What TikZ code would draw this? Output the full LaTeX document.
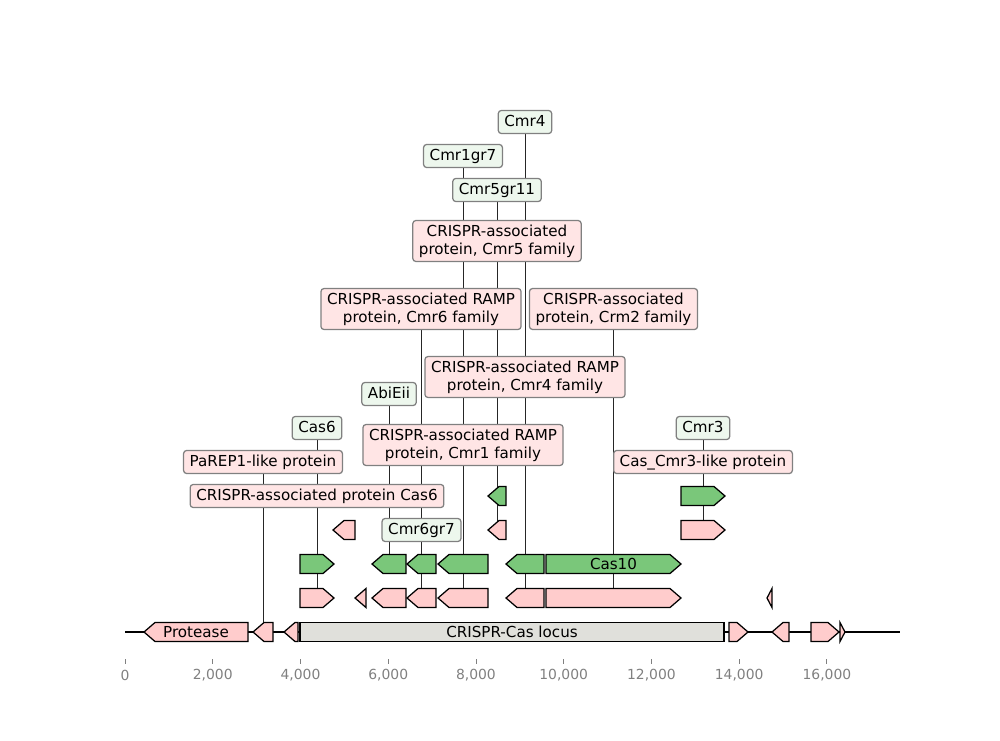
\documentclass[tikz,border=0pt]{standalone}
\usepackage{fontspec}
\setmainfont{DejaVu Sans}
\pgfdeclarelayer{background}
\pgfsetlayers{background,main}

\definecolor{featpink}{RGB}{255,204,204}
\definecolor{featgreen}{RGB}{122,199,122}
\definecolor{locusgrey}{RGB}{224,224,219}
\definecolor{labpink}{RGB}{255,229,229}
\definecolor{labgreen}{RGB}{237,247,237}
\definecolor{labedge}{RGB}{128,128,128}
\definecolor{axisgrey}{RGB}{128,128,128}

\newcommand\labfont{\fontsize{10.9}{13}\selectfont}

\tikzset{
  feat/.style={draw=black, line width=0.9pt, line join=miter},
  pinkfeat/.style={feat, fill=featpink},
  greenfeat/.style={feat, fill=featgreen},
  lab/.style={draw=labedge, line width=0.9pt, rounded corners=2.2pt,
    inner xsep=4.4pt, inner ysep=0pt, font=\labfont},
  onelab/.style={lab, text height=8.2pt, text depth=2.4pt, minimum height=16.6pt},
  twolab/.style={lab, align=center, minimum height=29.5pt},
  pinklab/.style={fill=labpink},
  greenlab/.style={fill=labgreen},
  link/.style={draw=black!85, line width=0.5pt},
  inlab/.style={inner sep=0pt, font=\labfont},
  ticklab/.style={inner sep=0pt, text=axisgrey, font=\fontsize{10}{12}\selectfont},
  tickmark/.style={draw=axisgrey, line width=0.6pt},
}

% forward gene: name, start, end, row, style
\newcommand\fwdgene[5]{%
  \pgfmathsetmacro\gneck{max(#2,#3-11)}%
  \draw[#5] (#2,#4-9.5) -- (\gneck,#4-9.5) -- (#3,#4) -- (\gneck,#4+9.5) -- (#2,#4+9.5) -- cycle;
  \coordinate (#1) at ({(#2+#3)/2},#4-9.5);}
% reverse gene: name, start, end, row, style
\newcommand\revgene[5]{%
  \pgfmathsetmacro\gneck{min(#3,#2+11)}%
  \draw[#5] (#3,#4-9.5) -- (\gneck,#4-9.5) -- (#2,#4) -- (\gneck,#4+9.5) -- (#3,#4+9.5) -- cycle;
  \coordinate (#1) at ({(#2+#3)/2},#4-9.5);}

\begin{document}
\begin{tikzpicture}[x=0.72pt, y=-0.72pt]
\useasboundingbox (0,0) rectangle (1000,740);

% ---- sequence backbone ----
\coordinate (seqL) at (125,632);
\coordinate (seqR) at (900,632);
\begin{pgfonlayer}{background}
  \draw[line width=1.3pt] (seqL) -- (seqR);
\end{pgfonlayer}

% ---- backbone row ----
\revgene{gProt}{144}{248}{632}{pinkfeat}
\node[inlab] (tProt) at (196,632) {Protease};
\revgene{gA2}{253}{273}{632}{pinkfeat}
\revgene{gA3}{284}{298}{632}{pinkfeat}
\draw[feat, fill=locusgrey] (300,622.5) rectangle (724,641.5);
\node[inlab] (tLocus) at (512,632) {CRISPR-Cas locus};
\fwdgene{gA5}{729}{748}{632}{pinkfeat}
\revgene{gA6}{772}{789}{632}{pinkfeat}
\fwdgene{gA7}{811}{839}{632}{pinkfeat}
\fwdgene{gA8}{840}{845}{632}{pinkfeat}

% ---- pink row 598 ----
\fwdgene{pB1}{300}{334}{598}{pinkfeat}
\revgene{pB2}{355}{366}{598}{pinkfeat}
\revgene{pB3}{372}{406}{598}{pinkfeat}
\revgene{pB4}{407}{436}{598}{pinkfeat}
\revgene{pB5}{438}{488}{598}{pinkfeat}
\revgene{pB6}{506}{544}{598}{pinkfeat}
\fwdgene{pB7}{546}{681}{598}{pinkfeat}
\revgene{pB8}{767}{772}{598}{pinkfeat}

% ---- green row 564 ----
\fwdgene{gC1}{300}{334}{564}{greenfeat}
\revgene{gC3}{372}{406}{564}{greenfeat}
\revgene{gC4}{407}{436}{564}{greenfeat}
\revgene{gC5}{438}{488}{564}{greenfeat}
\revgene{gC6}{506}{544}{564}{greenfeat}
\fwdgene{gC7}{546}{681}{564}{greenfeat}
\node[inlab] (tCas10) at (613.5,564) {Cas10};

% ---- pink row 530 ----
\revgene{pD1}{333}{355}{530}{pinkfeat}
\revgene{pD2}{488}{506}{530}{pinkfeat}
\fwdgene{pD3}{681}{725}{530}{pinkfeat}

% ---- green row 496 ----
\revgene{gE2}{488}{506}{496}{greenfeat}
\fwdgene{gE3}{681}{725}{496}{greenfeat}

% ---- labels ----
\node[onelab, greenlab] (lCmr4) at (525,122) {Cmr4};
\node[onelab, greenlab] (lCmr1gr7) at (463,156) {Cmr1gr7};
\node[onelab, greenlab] (lCmr5gr11) at (497,190) {Cmr5gr11};
\node[twolab, pinklab] (lCmr5fam) at (497,241) {CRISPR-associated\\protein, Cmr5 family};
\node[twolab, pinklab] (lCmr6fam) at (421,309) {CRISPR-associated RAMP\\protein, Cmr6 family};
\node[twolab, pinklab] (lCrm2fam) at (613.5,309) {CRISPR-associated\\protein, Crm2 family};
\node[twolab, pinklab] (lCmr4fam) at (525,377) {CRISPR-associated RAMP\\protein, Cmr4 family};
\node[onelab, greenlab] (lAbiEii) at (389,394) {AbiEii};
\node[onelab, greenlab] (lCas6) at (317,428) {Cas6};
\node[twolab, pinklab] (lCmr1fam) at (463,445) {CRISPR-associated RAMP\\protein, Cmr1 family};
\node[onelab, greenlab] (lCmr3) at (703,428) {Cmr3};
\node[onelab, pinklab] (lPaREP) at (263,462) {PaREP1-like protein};
\node[onelab, pinklab] (lCmr3like) at (703,462) {Cas\_Cmr3-like protein};
\node[onelab, pinklab] (lCas6prot) at (317,496) {CRISPR-associated protein Cas6};
\node[onelab, greenlab] (lCmr6gr7) at (421.5,530) {Cmr6gr7};

% ---- label connectors ----
\begin{pgfonlayer}{background}
  \draw[link] (gA2) -- (gA2 |- lPaREP.center);
  \draw[link] (gC1) -- (gC1 |- lCas6.center);
  \draw[link] (pB1) -- (pB1 |- lCas6prot.center);
  \draw[link] (gC3) -- (gC3 |- lAbiEii.center);
  \draw[link] (gC4) -- (gC4 |- lCmr6gr7.center);
  \draw[link] (pB4) -- (pB4 |- lCmr6fam.center);
  \draw[link] (gC5) -- (gC5 |- lCmr1gr7.center);
  \draw[link] (pB5) -- (pB5 |- lCmr1fam.center);
  \draw[link] (gE2) -- (gE2 |- lCmr5gr11.center);
  \draw[link] (pD2) -- (pD2 |- lCmr5fam.center);
  \draw[link] (gC6) -- (gC6 |- lCmr4.center);
  \draw[link] (pB6) -- (pB6 |- lCmr4fam.center);
  \draw[link] (pB7) -- (pB7 |- lCrm2fam.center);
  \draw[link] (gE3) -- (gE3 |- lCmr3.center);
  \draw[link] (pD3) -- (pD3 |- lCmr3like.center);
\end{pgfonlayer}

% ---- position axis ----
\foreach \v/\t [count=\i] in {0/0, 2000/{2,000}, 4000/{4,000}, 6000/{6,000},
    8000/{8,000}, 10000/{10,000}, 12000/{12,000}, 14000/{14,000}, 16000/{16,000}} {
  \coordinate (tk\i) at ({125+\v*0.043875},659);
  \draw[tickmark] (tk\i) -- ++(0,5);
  \node[ticklab] (tl\i) at ({125+\v*0.043875},675) {\t};
}
\end{tikzpicture}
\end{document}
